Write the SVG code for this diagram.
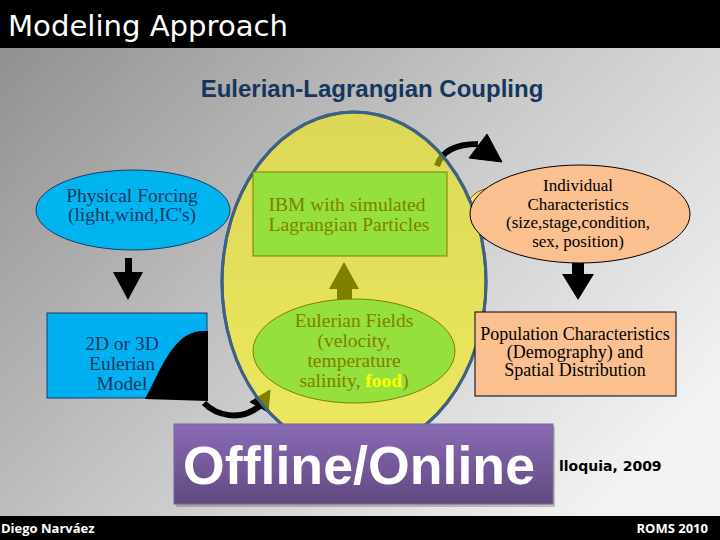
<svg xmlns="http://www.w3.org/2000/svg" width="720" height="540" viewBox="0 0 720 540">
<defs>
<linearGradient id="bg" x1="0" y1="0" x2="1" y2="0.7">
<stop offset="0" stop-color="#8c8c8c"/>
<stop offset="0.55" stop-color="#c8c8c8"/>
<stop offset="1" stop-color="#f2f2f2"/>
</linearGradient>
<linearGradient id="yel" x1="0" y1="0" x2="0" y2="1">
<stop offset="0" stop-color="#dcd855"/>
<stop offset="1" stop-color="#ece860"/>
</linearGradient>
<linearGradient id="pur" x1="0" y1="0" x2="0" y2="1">
<stop offset="0" stop-color="#8a6bb5"/>
<stop offset="1" stop-color="#60497f"/>
</linearGradient>
<clipPath id="bigclip"><ellipse cx="354" cy="282" rx="132" ry="170"/></clipPath>
<g id="topArrow">
<path d="M437,166 C442,150 458,144 478,144" fill="none" stroke-width="6"/>
<polygon points="487,134 469,158 502,162"/>
</g>
<g id="botArrow">
<path d="M204,403 C215,414 240,424 262,404" fill="none" stroke-width="6"/>
<polygon points="270,390 250,402 268,412"/>
</g>
</defs>
<style>
.t{font-family:"Liberation Serif","Times New Roman","DejaVu Serif",serif;font-size:19.5px;text-anchor:middle}
.navy{fill:#17375e}
.olive{fill:#7f7f00}
.blk{fill:#000}
.sm{font-size:17px}
.md{font-size:18px}
</style>
<rect x="0" y="0" width="720" height="540" fill="url(#bg)"/>
<rect x="0" y="0" width="720" height="48" fill="#000"/>
<text x="8" y="36" font-family="'DejaVu Sans',sans-serif" font-size="29" fill="#fff" textLength="280" lengthAdjust="spacingAndGlyphs">Modeling Approach</text>
<text x="372" y="97" font-family="'Liberation Sans',Arial,sans-serif" font-size="24" font-weight="bold" fill="#17365d" text-anchor="middle">Eulerian-Lagrangian Coupling</text>

<g id="connectors">
<use href="#topArrow" fill="#000" stroke="#000"/>
<use href="#botArrow" fill="#000" stroke="#000"/>
<polygon points="125,258 132,258 132,272 143,272 128,300 113,272 125,272" fill="#000"/>
<polygon points="572,262 584,262 584,274 594,274 578,300 562,274 572,274" fill="#000"/>
</g>

<g id="node-physical">
<ellipse cx="133" cy="210" rx="97" ry="40" fill="#00b4f0" stroke="#1f3864" stroke-width="1"/>
<text class="t navy" x="132" y="202">Physical Forcing</text>
<text class="t navy" x="132" y="221">(light,wind,IC's)</text>
</g>

<g id="node-eulerian-model">
<rect x="47" y="313" width="160" height="85" fill="#00b0f0" stroke="#1f3864" stroke-width="1"/>
<text class="t navy" x="122" y="350">2D or 3D</text>
<text class="t navy" x="122" y="370">Eulerian</text>
<text class="t navy" x="122" y="390">Model</text>
<path d="M145,399 C160,372 172,334 200,331 L208,331 L208,401 Z" fill="#000"/>
</g>

<g id="node-small-yellow">
<ellipse cx="492" cy="214" rx="27" ry="26" fill="#ffe066" stroke="#7f6000" stroke-width="1"/>
</g>

<g id="node-coupling">
<ellipse cx="354" cy="282" rx="132" ry="170" fill="url(#yel)" stroke="#3f6184" stroke-width="3"/>
<g clip-path="url(#bigclip)">
<use href="#topArrow" fill="#7f7f00" stroke="#7f7f00"/>
<use href="#botArrow" fill="#7f7f00" stroke="#7f7f00"/>
</g>
<ellipse cx="354" cy="282" rx="132" ry="170" fill="none" stroke="#3f6184" stroke-width="3"/>
<polygon points="344,262 359,289 352,289 352,300 337,300 337,289 329,289" fill="#7f7f00"/>
</g>

<g id="node-ibm">
<rect x="253" y="172" width="194" height="84" fill="#95e03c" stroke="#7f7f00" stroke-width="1"/>
<text class="t olive" x="347" y="211">IBM with simulated</text>
<text class="t olive" x="349" y="231">Lagrangian Particles</text>
</g>

<g id="node-fields">
<ellipse cx="354" cy="351" rx="101" ry="52" fill="#95e03c" stroke="#7f7f00" stroke-width="1"/>
<text class="t olive" x="354" y="327">Eulerian Fields</text>
<text class="t olive" x="354" y="347">(velocity,</text>
<text class="t olive" x="354" y="367">temperature</text>
<text class="t olive" x="354" y="387">salinity, <tspan fill="#ffff00" font-weight="bold">food</tspan>)</text>
</g>

<g id="node-individual">
<ellipse cx="580" cy="214" rx="110" ry="49" fill="#fac090" stroke="#000" stroke-width="1"/>
<text class="t blk sm" x="578" y="191">Individual</text>
<text class="t blk sm" x="578" y="210">Characteristics</text>
<text class="t blk sm" x="578" y="228">(size,stage,condition,</text>
<text class="t blk sm" x="578" y="247">sex, position)</text>
</g>

<g id="node-population">
<rect x="475" y="312" width="201" height="84" fill="#fac090" stroke="#000" stroke-width="1"/>
<text class="t blk md" x="575" y="340">Population Characteristics</text>
<text class="t blk md" x="575" y="358">(Demography) and</text>
<text class="t blk md" x="575" y="376">Spatial Distribution</text>
</g>

<text x="559" y="471" font-family="'DejaVu Sans',sans-serif" font-size="14" font-weight="bold" fill="#000">lloquia, 2009</text>

<g id="node-offline">
<rect x="176" y="427" width="379" height="80" fill="#000" opacity="0.2"/>
<rect x="174" y="424" width="379" height="80" fill="url(#pur)" stroke="#7a62a0" stroke-width="1"/>
<text x="183" y="484" font-family="'Liberation Sans',Arial,sans-serif" font-size="54" font-weight="bold" fill="#fff" textLength="352" lengthAdjust="spacingAndGlyphs">Offline/Online</text>
</g>

<rect x="0" y="516" width="720" height="24" fill="#000"/>
<text x="1" y="533" font-family="'Open Sans','Liberation Sans',sans-serif" font-size="13" font-weight="bold" fill="#fff">Diego Narváez</text>
<text x="708" y="533" font-family="'Open Sans','Liberation Sans',sans-serif" font-size="13" font-weight="bold" fill="#fff" text-anchor="end">ROMS 2010</text>
</svg>
